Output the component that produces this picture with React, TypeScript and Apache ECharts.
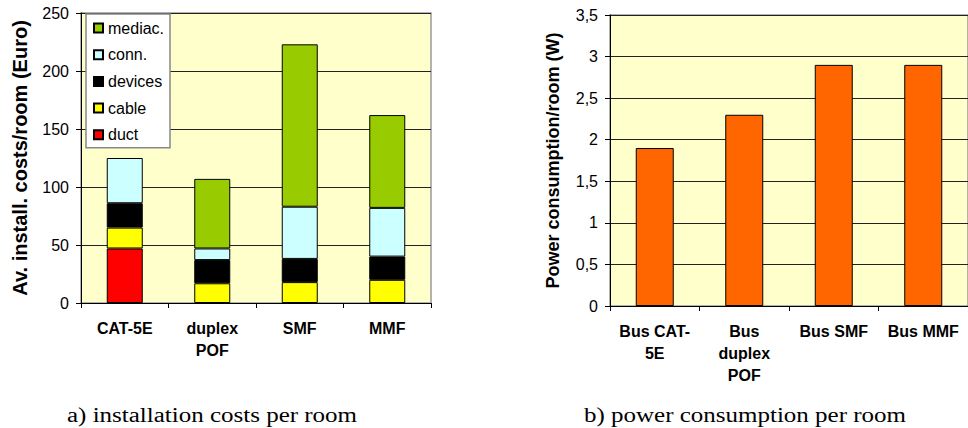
import React, { useEffect, useRef } from "react";
import * as echarts from "echarts";

// ---- Left chart: installation costs per room (Euro) ----
const costCategories = ["CAT-5E", "duplex\nPOF", "SMF", "MMF"];
const duct = [47, null, null, null];
const cable = [18, 17, 18, 20];
const devices = [21, 20, 20, 20];
const conn = [39, 10, 45, 42];
const mediac = [null, 60, 140, 80];
const costMin = 0;
const costMax = 250;
const costInterval = 50;

// ---- Right chart: power consumption per room (W) ----
const powerCategories = ["Bus CAT-\n5E", "Bus\nduplex\nPOF", "Bus SMF", "Bus MMF"];
const power = [1.9, 2.3, 2.9, 2.9];
const powerMin = 0;
const powerMax = 3.5;
const powerInterval = 0.5;

const legendOrder = ["mediac.", "conn.", "devices", "cable", "duct"];
const captions = ["a) installation costs per room", "b) power consumption per room"];

const SANS = "Liberation Sans";
const SERIF = "Liberation Serif";

export default function App() {
  const ref = useRef<HTMLDivElement>(null);

  useEffect(() => {
    if (!ref.current) return;
    const chart = echarts.init(ref.current, undefined, { renderer: "svg" });

    const barBorder = { borderColor: "#000", borderWidth: 1 };
    const stackSeries = (name: string, data: (number | null)[], color: string) => ({
      name,
      type: "bar",
      stack: "cost",
      xAxisIndex: 0,
      yAxisIndex: 0,
      barWidth: 36,
      data,
      itemStyle: { color, ...barBorder },
    });

    const yAxisCommon = {
      type: "value",
      axisLine: { show: true, lineStyle: { color: "#000", width: 1 } },
      axisTick: { show: true, length: 5, lineStyle: { color: "#000" } },
      splitLine: { show: true, lineStyle: { color: "#222", width: 1 } },
      axisLabel: { color: "#000", fontSize: 16, fontFamily: SANS, margin: 12 },
      nameLocation: "middle",
      nameRotate: 90,
    };
    const xAxisCommon = {
      type: "category",
      axisLine: { show: true, lineStyle: { color: "#000", width: 1 } },
      axisTick: { show: true, length: 5, alignWithLabel: false, lineStyle: { color: "#000" } },
      axisLabel: {
        interval: 0,
        color: "#000",
        fontSize: 16,
        fontWeight: "bold",
        fontFamily: SANS,
        lineHeight: 22,
        margin: 14,
      },
    };

    chart.setOption({
      animation: false,
      grid: [
        {
          left: 81,
          top: 13,
          width: 350,
          height: 290,
          show: true,
          backgroundColor: "#FFFFCC",
          borderColor: "#999",
          borderWidth: 1.5,
        },
        {
          left: 610,
          top: 15,
          width: 370,
          height: 291,
          show: true,
          backgroundColor: "#FFFFCC",
          borderColor: "#999",
          borderWidth: 1.5,
        },
      ],
      xAxis: [
        { ...xAxisCommon, gridIndex: 0, data: costCategories },
        { ...xAxisCommon, gridIndex: 1, data: powerCategories },
      ],
      yAxis: [
        {
          ...yAxisCommon,
          gridIndex: 0,
          min: costMin,
          max: costMax,
          interval: costInterval,
          name: "Av. install. costs/room (Euro)",
          nameGap: 51,
          nameTextStyle: { color: "#000", fontSize: 20, fontWeight: "bold", fontFamily: SANS },
        },
        {
          ...yAxisCommon,
          gridIndex: 1,
          min: powerMin,
          max: powerMax,
          interval: powerInterval,
          axisLabel: {
            ...yAxisCommon.axisLabel,
            formatter: (v: number) => String(v).replace(".", ","),
          },
          name: "Power consumption/room (W)",
          nameGap: 48,
          nameTextStyle: { color: "#000", fontSize: 18, fontWeight: "bold", fontFamily: SANS },
        },
      ],
      legend: {
        data: legendOrder,
        orient: "vertical",
        left: 86,
        top: 14,
        itemWidth: 9,
        itemHeight: 9,
        itemGap: 10.7,
        padding: [6, 6, 5, 7],
        backgroundColor: "#fff",
        borderColor: "#888",
        borderWidth: 1.5,
        icon: "rect",
        selectedMode: false,
        textStyle: { color: "#000", fontSize: 16, fontFamily: SANS },
      },
      series: [
        stackSeries("duct", duct, "#FF0000"),
        stackSeries("cable", cable, "#FFFF00"),
        stackSeries("devices", devices, "#000000"),
        stackSeries("conn.", conn, "#CCFFFF"),
        stackSeries("mediac.", mediac, "#99CC00"),
        {
          name: "power",
          type: "bar",
          xAxisIndex: 1,
          yAxisIndex: 1,
          barWidth: 38,
          data: power,
          itemStyle: { color: "#FF6600", ...barBorder },
        },
      ],
      graphic: [
        {
          type: "text",
          x: 67,
          y: 415,
          scaleX: 1.25,
          style: {
            text: captions[0],
            fontSize: 20,
            fontFamily: SERIF,
            fill: "#000",
            verticalAlign: "middle",
          },
        },
        {
          type: "text",
          x: 584,
          y: 415,
          scaleX: 1.25,
          style: {
            text: captions[1],
            fontSize: 20,
            fontFamily: SERIF,
            fill: "#000",
            verticalAlign: "middle",
          },
        },
      ],
    });

    return () => chart.dispose();
  }, []);

  return (
    <div
      ref={ref}
      style={{ position: "absolute", left: 0, top: 0, width: 968, height: 428, background: "#fff" }}
    />
  );
}
